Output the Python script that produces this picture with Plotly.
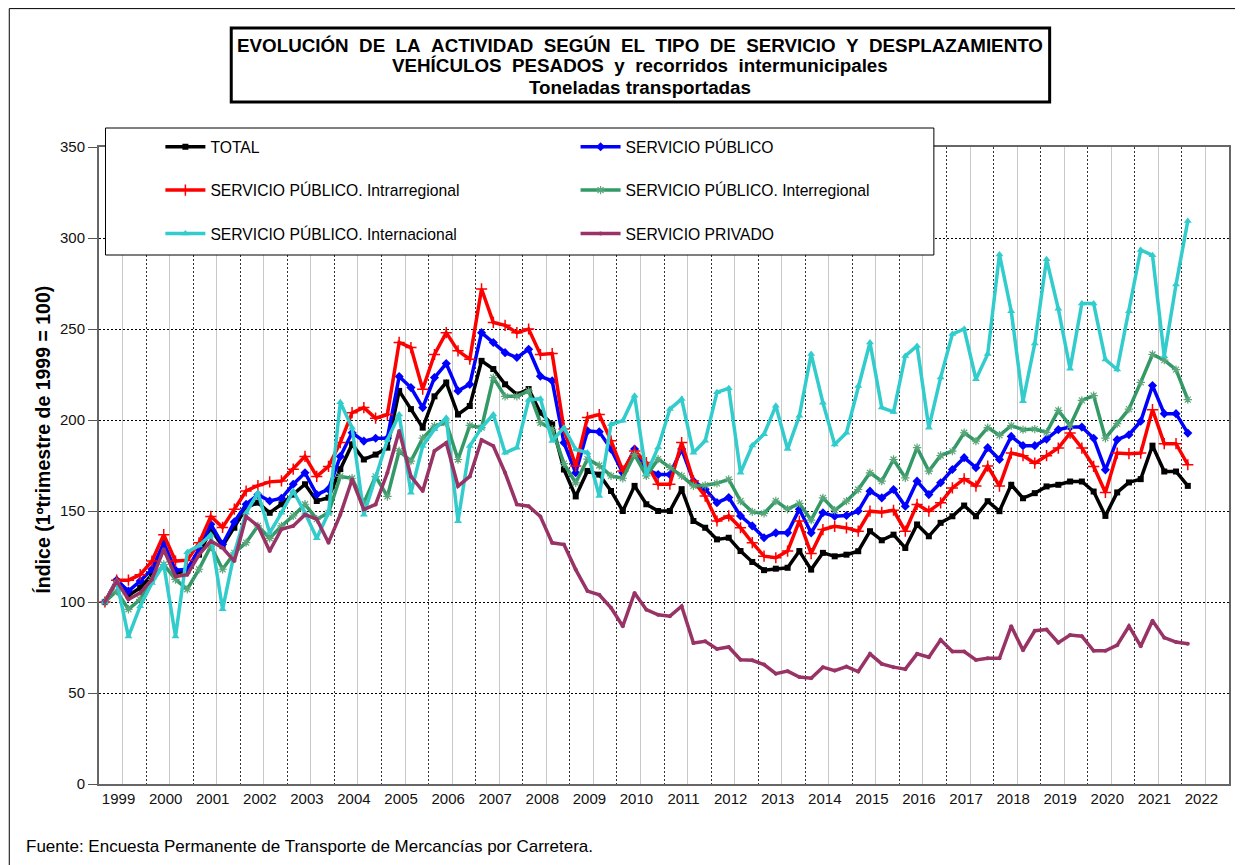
import plotly.graph_objects as go

# ---------------- data (quarterly index, 1st quarter 1999 = 100) ----------------
years = list(range(1999, 2023))
n_quarters_axis = 96  # 1999 T1 .. 2022 T4 on the axis

total = [100, 111.5, 103.6, 107.8, 115, 129, 116, 117, 126, 140, 130.7, 140.8, 151.8, 154.6, 149, 153.7, 159, 164.7, 155.5, 157.3, 173,
         186.6, 178.3, 181, 184.8, 216, 206, 195.8, 213, 220.6, 203, 207.7, 232.5, 228, 219.6, 214, 217, 204, 197.6, 172.8, 158,
         172, 170, 161, 150, 163.8, 153.7, 150, 150, 162, 144.5, 140.8, 134.4, 135.3, 128, 122, 117.5, 118.3, 118.8, 128,
         117.8, 127, 125.1, 126, 127.9, 138.9, 133.9, 137, 129.7, 142.6, 136.1, 143.5, 147.1, 153, 147.1, 155.4, 149.9,
         164.4, 157, 159.8, 163.5, 164.4, 166.2, 166.2, 160.7, 147.3, 160.2, 165.7, 167.5, 185.9, 171.7, 171.7, 163.8]

publico = [100, 112, 106, 111.5, 118, 132.5, 117.5, 118, 129, 142.7, 131.7, 144, 153.7, 159, 155.5, 157, 164.7, 171, 159, 162, 180,
           193, 188.4, 190, 190, 223.9, 217.8, 206.8, 223.3, 231, 216, 219.6, 248, 242.6, 237, 234.3, 238.9, 224, 221.5, 187.5, 171,
           194, 193.5, 184, 171, 184, 173, 170, 170, 184, 166.5, 162, 154.6, 157.4, 147.3, 141.8, 135.3, 138, 138, 151,
           138, 149, 147.1, 147.5, 150, 160.9, 157.2, 161.8, 152.6, 166.4, 159, 165.5, 172.8, 179.3, 173.8, 184.8, 178.3,
           191, 185.9, 185.9, 189.5, 194.7, 196.1, 196.1, 190, 172.6, 189.2, 191.9, 199.3, 218.9, 203.5, 203.5, 192.8]

intra = [100, 112, 112, 115, 122.5, 137, 122.5, 123, 132.5, 147, 141, 151, 161, 164, 166, 166.5, 173, 180, 169, 174.5, 187.6,
         204, 206.8, 201, 203, 242.6, 239.8, 216.9, 236, 248, 238, 233.4, 272, 253.6, 252, 248, 250, 236, 236.5, 195, 174.7,
         201.4, 203, 188.6, 172, 183, 176.6, 164.7, 164.7, 187.6, 166.5, 158.2, 144.5, 147.3, 140.8, 132.6, 125.2, 124.3, 128, 144.5,
         126.6, 139.8, 141.6, 140.7, 138.9, 149.9, 149.3, 150.4, 138.9, 153.6, 149.9, 154.5, 162.7, 167.7, 163.7, 174.7, 163.7,
         181.8, 180.4, 176.3, 180.4, 184.6, 192.8, 184.6, 174.5, 160.2, 181.8, 181.5, 181.8, 205.7, 187, 187, 175.4]

inter = [100, 106, 96, 101.4, 112.4, 120.6, 112.4, 107, 118, 130.7, 118, 127, 132.6, 141.8, 135, 141.8, 147.3, 153.7, 145.5, 149, 169,
         168, 154.5, 169, 158, 183, 177.4, 190, 196.7, 198.5, 178.3, 197, 195.8, 223.3, 213, 213, 216, 198.5, 194.9, 176, 165.5,
         178.5, 175, 169.3, 168, 181, 169.3, 178.5, 174, 169.3, 163.8, 164.1, 165.2, 167.4, 155.5, 149.5, 148.7, 155.5, 151, 154.2,
         145, 157.2, 150.4, 155.4, 161.8, 171, 166.4, 178.3, 168.2, 184.8, 171.9, 180.5, 182.9, 193, 188.4, 195.8, 191.6,
         196.9, 194.7, 195, 193.2, 205.3, 196.9, 210.8, 213.4, 190, 198, 206, 220.7, 236, 232.9, 227.7, 211.2]

internacional = [100, 111.5, 81, 97.7, 110.5, 120.6, 81, 127.4, 131, 137, 96, 127, 149, 160, 138, 149, 161, 149, 135, 149, 209.7,
                 195.8, 148, 169, 189, 203, 160, 185.7, 194.9, 201.3, 144.4, 185.7, 195.8, 203, 182, 184.8, 211, 211.7, 188.4, 195.8, 183.8,
                 182, 158.2, 197.7, 199.6, 213.3, 170.2, 184.9, 206, 211.5, 182, 188.6, 215.2, 217.4, 171, 186, 192.2, 207.8, 184, 202.3,
                 236.2, 209.5, 186.6, 193, 218.7, 242.6, 206.8, 204.4, 235.2, 240.7, 195.8, 223.3, 247.2, 250, 222.4, 236.2, 291,
                 259.8, 210.3, 242, 288.3, 261.1, 228.1, 264, 264, 233.2, 227.7, 259.8, 293.4, 290.5, 235, 274.5, 309.4]

privado = [100, 111.5, 101.4, 105, 112.4, 129, 114, 115, 126, 133.5, 129.8, 122.5, 147, 141.8, 128, 140, 141.8, 148, 145.5, 132.6, 148,
           167.3, 150.8, 153.6, 171, 194, 169, 161, 183, 187.5, 163.7, 169, 189, 185.7, 171, 153.6, 152.6, 147, 132.5, 131.6, 117.8,
           106, 104, 96.8, 86.7, 105, 95.8, 93, 92.2, 97.7, 77.5, 78.4, 74.2, 75.3, 68.3, 68, 65.6, 60.6, 62, 58.8,
           58.1, 64.2, 62.3, 64.5, 61.8, 71.5, 66, 64.2, 63.1, 71.5, 69.7, 79.2, 72.8, 72.8, 68.2, 69.1, 69.1,
           86.7, 73.5, 84.2, 84.9, 77.6, 81.8, 81.2, 73.2, 73.2, 76.3, 86.7, 75.7, 89.7, 80.4, 78, 77.1]

quarter_labels = [f"{1999 + i // 4} T{i % 4 + 1}" for i in range(len(total))]
xpos = [i + 0.5 for i in range(len(total))]  # centre of each quarter slot

FONT = "Liberation Sans, Arial, sans-serif"

# The page body has an 8px margin: the figure is drawn 8px smaller and all
# page-pixel positions below are converted to figure pixels.
OFF = 8
W, H = 1243 - OFF, 865 - OFF
L, R, T, B = 98.5 - OFF, 1230.7 - OFF, 147 - OFF, 784 - OFF


def px(x):
    return (x - OFF - L) / (R - L)


def py(y):
    return (B - (y - OFF)) / (B - T)


series = [
    ("TOTAL", total, "#000000", dict(symbol="square", size=6), "legend"),
    ("SERVICIO PÚBLICO", publico, "#0000FF", dict(symbol="diamond", size=7), "legend2"),
    ("SERVICIO PÚBLICO. Intrarregional", intra, "#FF0000",
     dict(symbol="cross-thin", size=8, line=dict(color="#FF0000", width=1.5)), "legend"),
    ("SERVICIO PÚBLICO. Interregional", inter, "#339966",
     dict(symbol="asterisk", size=7, line=dict(color="#5aa67a", width=1.2)), "legend2"),
    ("SERVICIO PÚBLICO. Internacional", internacional, "#33CCCC", dict(symbol="triangle-up", size=7), "legend"),
    ("SERVICIO PRIVADO", privado, "#993366", dict(symbol="circle", size=4), "legend2"),
]

fig = go.Figure()
for name, vals, color, mk, lg in series:
    mk = dict(mk)
    mk.setdefault("color", color)
    fig.add_trace(go.Scatter(
        x=xpos, y=vals, name=name, mode="lines+markers",
        customdata=quarter_labels,
        line=dict(color=color, width=3.5),
        marker=mk, legend=lg, legendgroup=name,
        hovertemplate="%{customdata}: %{y}<extra>" + name + "</extra>",
    ))

legend_common = dict(
    bgcolor="rgba(0,0,0,0)", borderwidth=0, xanchor="left", yanchor="top",
    font=dict(family=FONT, size=15.7, color="#000000"),
    tracegroupgap=20, traceorder="grouped", itemwidth=40,
)

fig.update_layout(
    width=W, height=H,
    margin=dict(l=L, r=W - R, t=T, b=H - B, pad=0),
    paper_bgcolor="white", plot_bgcolor="white",
    font=dict(family=FONT, size=15, color="#000000"),
    showlegend=True,
    legend=dict(x=px(160), y=py(130), **legend_common),
    legend2=dict(x=px(576), y=py(130), **legend_common),
    xaxis=dict(
        range=[0, n_quarters_axis],
        tickmode="array",
        tickvals=[4 * k + 2 for k in range(len(years))],
        ticktext=[str(y) for y in years],
        ticklabelshift=-4,
        showgrid=True, gridcolor="#c8c8c8", gridwidth=1,
        ticks="", showline=True, linecolor="#666666", linewidth=2, mirror=True,
        zeroline=False,
        tickfont=dict(family=FONT, size=15, color="#111111"),
        minor=dict(tickmode="array", tickvals=[4 * k for k in range(1, len(years))],
                   showgrid=True, gridcolor="#333333", griddash="2px,2px", gridwidth=1,
                   ticks=""),
    ),
    yaxis=dict(
        range=[0, 350], dtick=50, tick0=0,
        showgrid=True, gridcolor="#000000", griddash="2px,2px", gridwidth=1,
        ticks="outside", ticklen=9, tickcolor="#555555",
        showline=True, linecolor="#666666", linewidth=2, mirror=True,
        zeroline=False,
        tickfont=dict(family=FONT, size=15, color="#111111"),
    ),
)

shapes = [
    # outer chart frame (left / top edges visible)
    dict(type="rect", xref="paper", yref="paper", x0=px(8.6), x1=px(1280), y0=py(900), y1=py(8.6),
         line=dict(color="#000000", width=1), fillcolor="rgba(0,0,0,0)", layer="below"),
    # legend box
    dict(type="rect", xref="paper", yref="paper", x0=px(105), x1=px(935), y0=py(255), y1=py(128),
         line=dict(color="#000000", width=1), fillcolor="white", layer="above"),
    # title box
    dict(type="rect", xref="paper", yref="paper", x0=px(231), x1=px(1051), y0=py(102), y1=py(28),
         line=dict(color="#000000", width=3), fillcolor="white", layer="above"),
]
fig.update_layout(shapes=shapes)

NB = "\u00a0"
title_lines = [
    (f"EVOLUCIÓN{NB*2}DE{NB*2}LA{NB*2}ACTIVIDAD{NB*2}SEGÚN{NB*2}EL{NB*2}TIPO{NB*2}DE{NB*2}SERVICIO{NB*2}Y{NB*2}DESPLAZAMIENTO", 45),
    (f"VEHÍCULOS{NB*2}PESADOS{NB*2}y{NB*2}recorridos{NB*2}intermunicipales", 66),
    ("Toneladas transportadas", 87),
]

annotations = []
for txt, ypix in title_lines:
    annotations.append(dict(text="<b>" + txt + "</b>", xref="paper", yref="paper",
                            x=px(641), y=py(ypix), xanchor="center", yanchor="middle", showarrow=False,
                            font=dict(family=FONT, size=18.8, color="#000000")))
annotations += [
    dict(text="<b>Índice (1ºtrimestre de 1999 = 100)</b>", xref="paper", yref="paper",
         x=px(42), y=py(440), xanchor="center", yanchor="middle", showarrow=False,
         textangle=-90, font=dict(family=FONT, size=19.5, color="#000000")),
    dict(text="Fuente: Encuesta Permanente de Transporte de Mercancías por Carretera.",
         xref="paper", yref="paper", x=px(23), y=py(846), xanchor="left", yanchor="middle",
         showarrow=False, font=dict(family=FONT, size=17, color="#000000")),
]
fig.update_layout(annotations=annotations)

fig.write_html("out.html")
